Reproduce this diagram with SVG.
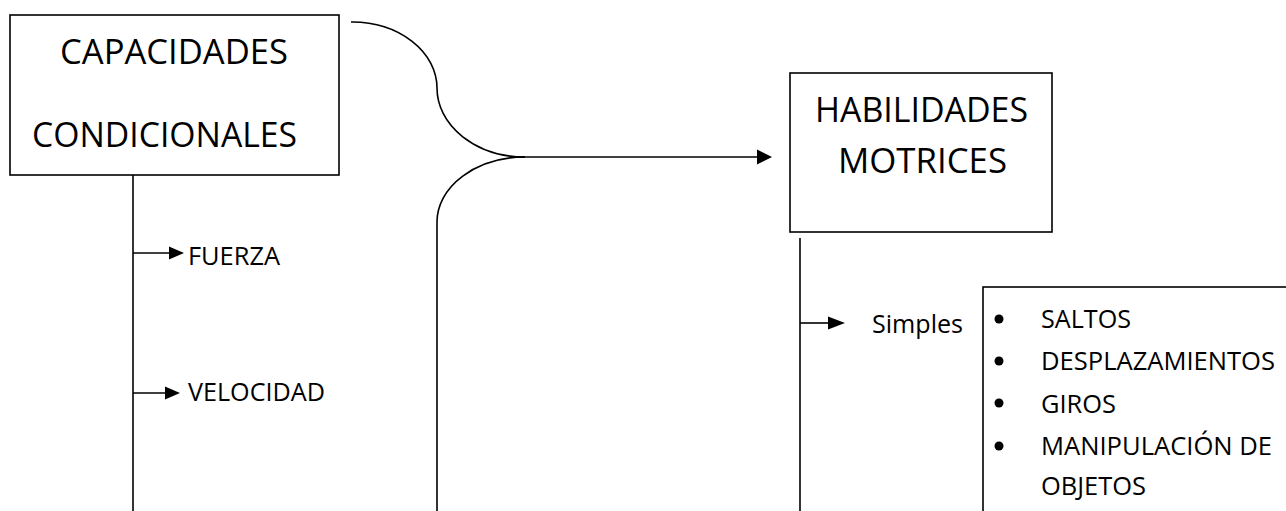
<svg xmlns="http://www.w3.org/2000/svg" width="1286" height="511" viewBox="0 0 1286 511">
<style>
.box{fill:#fff;stroke:#000;stroke-width:1.6}
.ln{fill:none;stroke:#000;stroke-width:1.6}
.big{font-family:"Open Sans","Liberation Sans",sans-serif;font-size:35px;fill:#000}
.sm{font-family:"Open Sans","Liberation Sans",sans-serif;font-size:26px;fill:#000}
.ah{fill:#000}
</style>
<rect width="1286" height="511" fill="#fff"/>
<g id="connectors">
<path class="ln" d="M133,175 L133,511"/>
<path class="ln" d="M133,253 L170,253"/>
<polygon class="ah" points="169,246.5 184,253 169,259.5"/>
<path class="ln" d="M133,393 L166,393"/>
<polygon class="ah" points="165,386.5 180,393 165,399.5"/>
<path class="ln" d="M351,22 A85 66 0 0 1 437,88 A88 69 0 0 0 525,157"/>
<path class="ln" d="M525,157 A88 65 0 0 0 437,222 L437,511"/>
<path class="ln" d="M517,157 L758,157"/>
<polygon class="ah" points="757,149.5 772,157 757,164.5"/>
<path class="ln" d="M800,238 L800,511"/>
<path class="ln" d="M800,323 L829,323"/>
<polygon class="ah" points="828,316.5 845,323 828,329.5"/>
</g>
<g id="capacidades">
<rect class="box" x="10" y="15" width="329" height="160"/>
<text class="big" x="60" y="64" textLength="228" lengthAdjust="spacingAndGlyphs">CAPACIDADES</text>
<text class="big" x="32" y="147" textLength="265" lengthAdjust="spacingAndGlyphs">CONDICIONALES</text>
</g>
<g id="fuerza">
<text class="sm" x="188" y="265" textLength="92" lengthAdjust="spacingAndGlyphs">FUERZA</text>
</g>
<g id="velocidad">
<text class="sm" x="188" y="401" textLength="137" lengthAdjust="spacingAndGlyphs">VELOCIDAD</text>
</g>
<g id="habilidades">
<rect class="box" x="790" y="73" width="262" height="159"/>
<text class="big" x="815" y="122" textLength="213" lengthAdjust="spacingAndGlyphs">HABILIDADES</text>
<text class="big" x="838" y="173" textLength="169" lengthAdjust="spacingAndGlyphs">MOTRICES</text>
</g>
<g id="simples">
<text class="sm" x="872" y="333" textLength="91" lengthAdjust="spacingAndGlyphs">Simples</text>
</g>
<g id="lista">
<rect class="box" x="983" y="287" width="330" height="260"/>
<circle class="ah" cx="999" cy="319" r="4.5"/>
<circle class="ah" cx="999" cy="361" r="4.5"/>
<circle class="ah" cx="999" cy="403" r="4.5"/>
<circle class="ah" cx="999" cy="446" r="4.5"/>
<text class="sm" x="1041" y="328" textLength="90" lengthAdjust="spacingAndGlyphs">SALTOS</text>
<text class="sm" x="1041" y="370" textLength="234" lengthAdjust="spacingAndGlyphs">DESPLAZAMIENTOS</text>
<text class="sm" x="1041" y="413" textLength="75" lengthAdjust="spacingAndGlyphs">GIROS</text>
<text class="sm" x="1041" y="455" textLength="231" lengthAdjust="spacingAndGlyphs">MANIPULACIÓN DE</text>
<text class="sm" x="1041" y="495" textLength="105" lengthAdjust="spacingAndGlyphs">OBJETOS</text>
</g>
</svg>
